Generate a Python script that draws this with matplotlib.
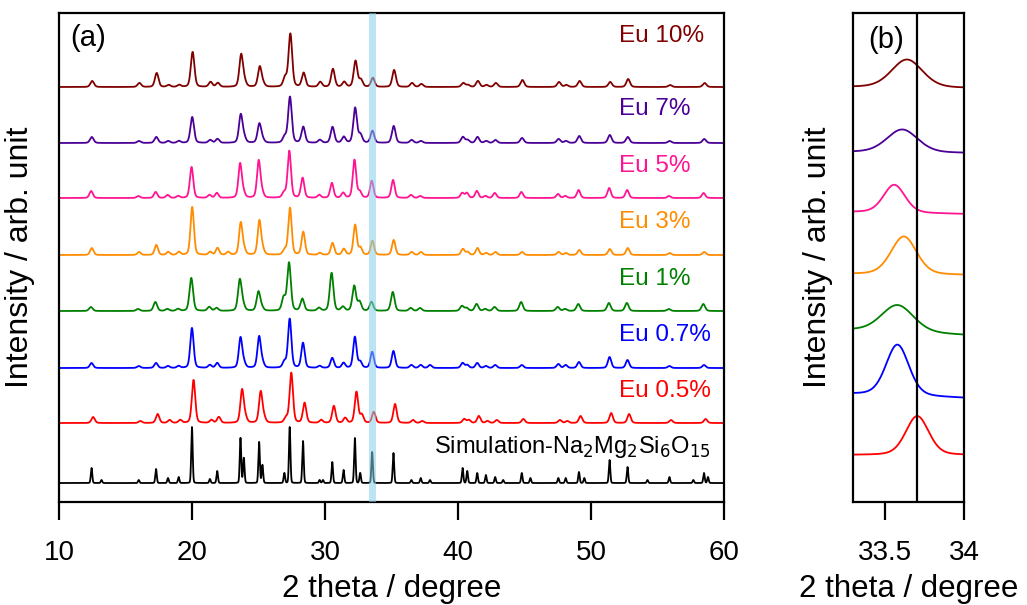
import numpy as np
import matplotlib
matplotlib.use("Agg")
import matplotlib.pyplot as plt

plt.rcParams['font.family'] = ['Liberation Sans', 'DejaVu Sans']

# 衍射峰位置 (2 theta)
peak_pos = [12.45, 13.2, 16.0, 17.3, 18.2, 19.0, 20.0, 21.35, 21.9, 22.7,
            23.65, 23.9, 25.05, 25.3, 26.95, 27.35, 28.35, 29.6, 29.85, 30.55,
            31.4, 32.25, 32.65, 33.55, 35.15, 36.5, 37.2, 37.9, 40.35, 40.7,
            41.45, 42.1, 42.8, 43.4, 44.8, 45.45, 47.55, 48.1, 49.1, 49.5,
            51.4, 52.75, 54.25, 55.9, 57.7, 58.5, 58.8]

labels = ['Simulation-Na$_2$Mg$_2$Si$_6$O$_{15}$', 'Eu 0.5%', 'Eu 0.7%', 'Eu 1%',
          'Eu 3%', 'Eu 5%', 'Eu 7%', 'Eu 10%']
colors = ['black', '#FF0000', '#0000FF', '#008000', '#FF8C00', '#FF1493', '#4B0096', '#800000']
offsets = [19, 79, 134, 191, 247, 304, 359, 415]
label_x = [38.2, 52.1, 52.1, 52.1, 52.1, 52.1, 52.1, 52.1]
label_y = [55, 111, 167, 223, 280, 336, 393, 466]
shifts = [0.0, 0.12, 0.0, -0.05, 0.02, -0.03, 0.02, 0.05]
fwhm = [0.13, 0.3, 0.3, 0.32, 0.3, 0.3, 0.32, 0.32]

h_sim = [15, 3, 3, 14, 5, 6, 56, 4, 12, 0, 45, 25, 41, 18, 10, 56, 42, 3, 3, 21,
         13, 45, 10, 31, 30, 3, 5, 3, 15, 12, 10, 8, 6, 3, 10, 5, 5, 5, 11, 5,
         23, 16, 3, 6, 3, 10, 6]
h_05 = [6, 0, 2, 9, 3, 3, 43, 3, 6, 0, 33, 5, 31, 5, 5, 50, 20, 3, 0, 17,
        5, 31, 8, 11, 19, 3, 2, 0, 4, 3, 7, 2, 3, 0, 4, 0, 3, 2, 7, 0,
        10, 9, 0, 3, 0, 4, 0]
h_07 = [5, 0, 2, 5, 2, 2, 40, 3, 5, 0, 30, 5, 31, 5, 6, 49, 25, 2, 0, 10,
        5, 31, 6, 16, 17, 3, 3, 3, 5, 3, 5, 2, 3, 0, 3, 0, 4, 3, 6, 0,
        11, 8, 0, 2, 0, 3, 0]
h_1 = [4, 0, 2, 9, 2, 2, 33, 4, 3, 0, 31, 5, 19, 3, 13, 48, 12, 3, 0, 38,
       4, 25, 9, 9, 19, 3, 3, 0, 5, 3, 7, 2, 4, 0, 9, 0, 4, 2, 7, 0,
       8, 8, 0, 2, 0, 7, 0]
h_3 = [7, 0, 3, 10, 3, 3, 48, 3, 7, 3, 32, 5, 34, 5, 5, 47, 23, 2, 0, 12,
       6, 30, 7, 14, 15, 3, 3, 0, 6, 3, 7, 2, 3, 0, 3, 0, 3, 2, 5, 0,
       6, 7, 0, 2, 0, 3, 0]
h_5 = [7, 0, 2, 6, 3, 2, 31, 3, 5, 0, 34, 5, 37, 5, 5, 47, 20, 3, 0, 15,
       5, 38, 6, 17, 18, 3, 2, 0, 5, 5, 7, 2, 5, 0, 6, 0, 4, 2, 8, 0,
       10, 8, 0, 2, 0, 5, 0]
h_7 = [6, 0, 2, 6, 2, 2, 26, 3, 4, 0, 28, 5, 19, 3, 6, 46, 16, 3, 0, 16,
       6, 35, 8, 12, 17, 3, 2, 0, 6, 3, 6, 2, 3, 0, 5, 0, 4, 2, 7, 0,
       8, 6, 0, 2, 0, 4, 0]
h_10 = [6, 0, 4, 14, 2, 2, 35, 5, 4, 0, 32, 5, 20, 3, 9, 53, 14, 5, 0, 18,
        5, 26, 7, 9, 17, 4, 3, 0, 4, 2, 6, 2, 4, 0, 7, 0, 5, 2, 6, 0,
        5, 8, 0, 2, 0, 4, 0]
heights = [h_sim, h_05, h_07, h_1, h_3, h_5, h_7, h_10]

# 局部放大 (b): 33.3-34 度附近的峰, 顺序 Eu 0.5% ... Eu 10%
zoom_center = [33.705, 33.58, 33.58, 33.62, 33.56, 33.61, 33.64]
zoom_height = [39, 51, 27, 38, 28, 23, 28]
zoom_fwhm = [0.17, 0.17, 0.24, 0.19, 0.16, 0.23, 0.23]
zoom_left = [47, 108, 172, 228, 290, 350, 415]
zoom_right = [47, 104, 167, 227, 288, 349, 414]


def pv(x, pos, hts, w, eta=0.4):
    y = np.zeros_like(x)
    s = w / 2.3548
    g = w / 2
    for p, h in zip(pos, hts):
        y += h * ((1 - eta) * np.exp(-(x - p) ** 2 / (2 * s ** 2)) + eta * g ** 2 / ((x - p) ** 2 + g ** 2))
    return y


fig = plt.figure(figsize=(10.27, 6.05), dpi=100)
ax = fig.add_axes([0.0574, 0.1702, 0.6475, 0.8083])
axb = fig.add_axes([0.8306, 0.1702, 0.1081, 0.8083])

x = np.linspace(10, 60, 6001)
for i in range(len(labels)):
    pos = np.array(peak_pos) + shifts[i]
    y = offsets[i] + pv(x, pos, heights[i], fwhm[i], 0.3 if i else 0.1)
    ax.plot(x, y, color=colors[i], lw=1.3)
    ax.text(label_x[i], label_y[i], labels[i], color=colors[i],
            fontsize=17 if i == 0 else 17.5, va='center', ha='left')

ax.axvspan(33.3, 33.85, color='#87CEEB', alpha=0.55, lw=0, zorder=5)
ax.set_xlim(10, 60)
ax.set_ylim(0, 489)
ax.set_yticks([])
ax.set_xticks([10, 20, 30, 40, 50, 60])
ax.set_xlabel('2 theta / degree', fontsize=22.5)
ax.set_ylabel('Intensity / arb. unit', fontsize=23)
ax.xaxis.set_label_coords(0.5, -0.147)
ax.yaxis.set_label_coords(-0.036, 0.5)
ax.text(0.044, 0.949, '(a)', transform=ax.transAxes, fontsize=21, va='center', ha='center')

xb = np.linspace(33.3, 34.0, 500)
for j in range(len(zoom_center)):
    base = zoom_left[j] + (zoom_right[j] - zoom_left[j]) * (xb - 33.3) / 0.7
    yb = base + pv(xb, [zoom_center[j]], [zoom_height[j]], zoom_fwhm[j], 0.25)
    axb.plot(xb, yb, color=colors[j + 1], lw=1.3)

axb.axvline(33.705, color='black', lw=1.6)
axb.set_xlim(33.3, 34.0)
axb.set_ylim(0, 489)
axb.set_yticks([])
axb.set_xticks([33.5, 34])
axb.set_xticklabels(['33.5', '34'])
axb.set_xlabel('2 theta / degree', fontsize=22.5)
axb.set_ylabel('Intensity / arb. unit', fontsize=23)
axb.xaxis.set_label_coords(0.5, -0.147)
axb.yaxis.set_label_coords(-0.18, 0.5)
axb.text(0.30, 0.945, '(b)', transform=axb.transAxes, fontsize=21, va='center', ha='center')

for a in (ax, axb):
    for sp in a.spines.values():
        sp.set_linewidth(1.6)
    a.tick_params(axis='x', direction='out', length=13, width=1.6, labelsize=20, pad=14)

fig.savefig('out.png', dpi=100)
